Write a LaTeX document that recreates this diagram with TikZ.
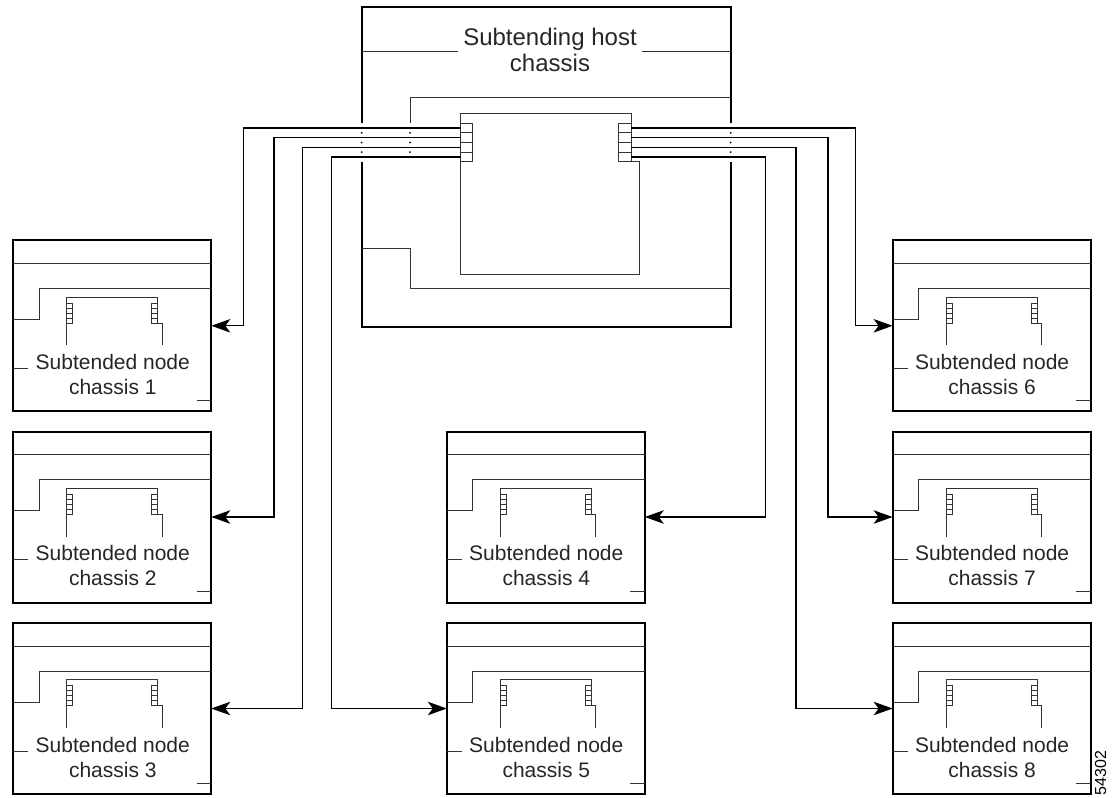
\documentclass[tikz,border=0pt]{standalone}
\usepackage{fontspec}
\setmainfont{Liberation Sans}
\usetikzlibrary{arrows.meta}

\tikzset{
  chassis/.style={draw, line width=2pt, minimum width=198pt, minimum height=171pt, inner sep=0pt, outer sep=0pt},
  frame/.style={line width=2pt},
  part/.style={line width=0.9pt, black!80},
  cable/.style={line width=1.3pt, -{Stealth[length=19pt, width=13.5pt, inset=5pt]}},
  chassislabel/.style={align=center, font=\fontsize{21}{25}\selectfont, text=black!85},
  hostlabel/.style={align=center, font=\fontsize{24}{26.6}\selectfont, text=black!85}
}

% parts inside one subtended chassis
\newcommand{\chassisparts}[2]{%
  \begin{scope}[shift={(#1.north west)}]
    \draw[part] (0,23.3) -- (198,23.3);
    \draw[part] (198,48.3) -- (26,48.3) -- (26,79.3) -- (0,79.3);
    \draw[part] (53.4,105) -- (53.4,56.7) -- (144.4,56.7) -- (144.4,82.7) -- (149,82.7) -- (149,105);
    \foreach \px in {53.4,138.4} {
      \draw[part] (\px,62.7) rectangle ++(6,20);
      \foreach \cy in {67.7,72.7,77.7}
        \draw[part, line width=0.6pt] (\px,\cy) -- ++(6,0);
    }
    \draw[part] (0,128.3) -- (15,128.3);
    \draw[part] (183.4,160) -- (198,160);
    \node[chassislabel] (#1-label) at (99.5,134) {Subtended node\\chassis #2};
  \end{scope}}

\begin{document}
\begin{tikzpicture}[x=1pt, y=-1pt]
    \useasboundingbox (0,0) rectangle (1115,797);

    % Host chassis
    \draw[frame] (361.7,123.3) -- (361.7,6.7) -- (730.7,6.7) -- (730.7,123.3);
    \draw[frame] (361.7,161.7) -- (361.7,326.7) -- (730.7,326.7) -- (730.7,161.7);
    \draw[part] (361.7,51.7) -- (458.3,51.7);
    \draw[part] (641.7,51.7) -- (730.7,51.7);
    \node[hostlabel] (host) at (550,50) {Subtending host\\chassis};
    \draw[part] (730.7,97.7) -- (410,97.7) -- (410,123.3);
    \draw[part] (361.7,248.3) -- (410,248.3) -- (410,288.3) -- (730.7,288.3);

    % Host board and ports
    \draw[part] (460.7,123.3) -- (460.7,113.3) -- (631,113.3) -- (631,123.3);
    \draw[part] (460.7,161.7) -- (460.7,274) -- (639.3,274) -- (639.3,161.7) -- (631,161.7);
    \foreach \px/\pw in {460.7/12, 618.7/12.3} {
      \draw[part] (\px,123.3) rectangle ++(\pw,38.4);
      \foreach \cy in {132.9,142.5,152.1}
        \draw[part] (\px,\cy) -- ++(\pw,0);
    }
    \foreach \i/\cy in {1/128.1, 2/137.7, 3/147.3, 4/156.9} {
      \coordinate (pL\i) at (460.7,\cy);
      \coordinate (pR\i) at (631,\cy);
    }

    % dots where the cables cross the frame
    \foreach \dx in {361.7,410,730.7}
      \foreach \dy in {132.9,142.5,152.1}
        \fill (\dx,\dy) circle (1pt);

    % Subtended nodes
    \node[chassis] (n1) at (112.3,325.8) {};
    \node[chassis] (n2) at (112.3,517) {};
    \node[chassis] (n3) at (112.3,708.5) {};
    \node[chassis] (n4) at (545.8,517) {};
    \node[chassis] (n5) at (545.8,708.5) {};
    \node[chassis] (n6) at (991.6,325.8) {};
    \node[chassis] (n7) at (991.6,517) {};
    \node[chassis] (n8) at (991.6,708.5) {};
    \foreach \k in {1,...,8} {
      \chassisparts{n\k}{\k}
    }

    % Cables
    \draw[cable] (pL1) -| ([xshift=32pt]n1.east) -- (n1.east);
    \draw[cable] (pL2) -| ([xshift=62.7pt]n2.east) -- (n2.east);
    \draw[cable] (pL3) -| ([xshift=91.4pt]n3.east) -- (n3.east);
    \draw[cable] (pL4) -| ([xshift=-115pt]n5.west) -- (n5.west);
    \draw[cable] (pR1) -| ([xshift=-37.3pt]n6.west) -- (n6.west);
    \draw[cable] (pR2) -| ([xshift=-64.7pt]n7.west) -- (n7.west);
    \draw[cable] (pR3) -| ([xshift=-96.6pt]n8.west) -- (n8.west);
    \draw[cable] (pR4) -| ([xshift=121pt]n4.east) -- (n4.east);

    % figure number
    \node[rotate=90, font=\fontsize{16}{16}\selectfont] (fignum) at (1100.5,773) {54302};
\end{tikzpicture}
\end{document}
